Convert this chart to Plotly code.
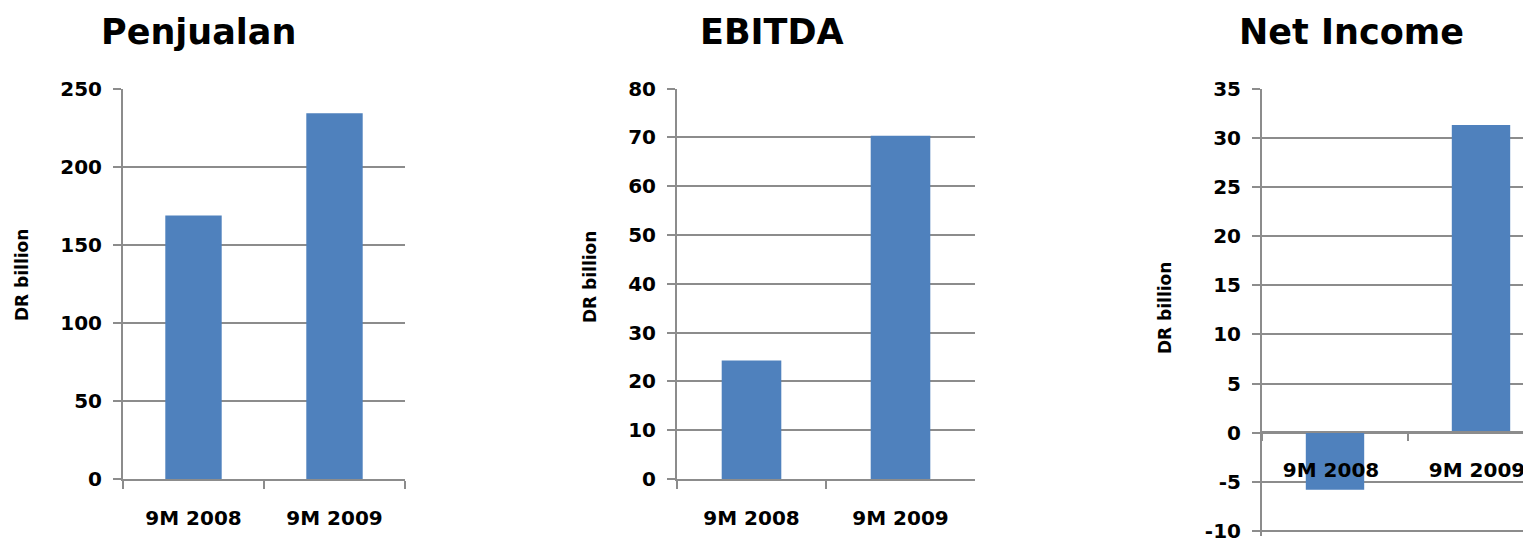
import plotly.graph_objects as go

categories = ["9M 2008", "9M 2009"]
penjualan = [168.7, 234.1]
ebitda = [24.3, 70.3]
net_income = [-5.8, 31.3]
titles = ["Penjualan", "EBITDA", "Net Income"]
axis_title = "DR billion"
ni_ticks = [-10, -5, 0, 5, 10, 15, 20, 25, 30, 35]
ni_tick_labels = ["-10", "-5", "0", "5", "10", "15", "20", "25", "30", "35"]

# page body has an 8px margin: the figure fills the rest of the 1531x540 window
OFF = 8
W, H = 1531 - OFF, 540 - OFF
BAR = "#4F81BD"
GRID = "#8C8C8C"
FONT = "DejaVu Sans"

def fx(px):
    return (px - OFF) / W

def fy(py):
    return 1 - (py - OFF) / H

fig = go.Figure()
fig.add_trace(go.Bar(x=categories, y=penjualan, marker=dict(color=BAR, line=dict(width=0)),
                     width=0.4, xaxis="x", yaxis="y", showlegend=False))
fig.add_trace(go.Bar(x=categories, y=ebitda, marker=dict(color=BAR, line=dict(width=0)),
                     width=0.4, xaxis="x2", yaxis="y2", showlegend=False))
fig.add_trace(go.Bar(x=categories, y=net_income, marker=dict(color=BAR, line=dict(width=0)),
                     width=0.4, xaxis="x3", yaxis="y3", showlegend=False))

tickfont = dict(family=FONT, size=20, color="black", weight="bold")

def xaxis(domain, anchor, rng, position=None, shift=0):
    d = dict(domain=domain, type="category", range=rng, showline=True, linecolor=GRID,
             linewidth=2, ticks="outside", tickson="boundaries", ticklen=8, tickwidth=2,
             tickcolor=GRID, tickfont=tickfont, showgrid=False, zeroline=False,
             ticklabelstandoff=20, ticklabelshift=shift, fixedrange=True, automargin=False,
             ticklabeloverflow="allow")
    if position is None:
        d["anchor"] = anchor
    else:
        d["anchor"] = "free"
        d["position"] = position
    return d

def yaxis(domain, anchor, rng, dtick, tickvals=None, ticktext=None):
    d = dict(domain=domain, anchor=anchor, range=rng, dtick=dtick, tick0=0,
             showline=True, linecolor=GRID, linewidth=2, ticks="outside", ticklen=8,
             tickwidth=2, tickcolor=GRID, showgrid=True, gridcolor=GRID, gridwidth=2,
             zeroline=False, tickfont=tickfont, ticklabelstandoff=7, fixedrange=True,
             automargin=False, ticklabeloverflow="allow")
    if tickvals is not None:
        d["tickmode"] = "array"
        d["tickvals"] = tickvals
        d["ticktext"] = ticktext
    return d

ydom12 = [fy(479), fy(88.5)]
# extension below -10 so the bottom gridline is drawn inside the plot area
ydom3 = [fy(536), fy(88.5)]

fig.update_layout(
    width=W, height=H,
    margin=dict(l=0, r=0, t=0, b=0, pad=0, autoexpand=False),
    paper_bgcolor="white", plot_bgcolor="white",
    xaxis=xaxis([fx(123), fx(405)], "y", [-0.5, 1.5]),
    yaxis=yaxis(ydom12, "x", [0, 250], 50),
    xaxis2=xaxis([fx(677), fx(975)], "y2", [-0.5, 1.5]),
    yaxis2=yaxis(ydom12, "x2", [0, 80], 10),
    xaxis3=xaxis([fx(1262), 1.0], "y3", [-0.5, -0.5 + (1531 - 1262) / 146.0],
                 position=fy(432), shift=-4),
    yaxis3=yaxis(ydom3, "x3", [-10.5, 35], 5, ni_ticks, ni_tick_labels),
)

annotations = []
for title, cx in zip(titles, [198, 772, 1351]):
    annotations.append(dict(text=title, x=fx(cx), y=fy(32), xref="paper", yref="paper",
                            xanchor="center", yanchor="middle", showarrow=False,
                            font=dict(family=FONT, size=35, color="black", weight="bold")))
for ax_x, ax_y in [(22, 275), (590, 277), (1165, 308)]:
    annotations.append(dict(text=axis_title, x=fx(ax_x), y=fy(ax_y), xref="paper", yref="paper",
                            xanchor="center", yanchor="middle", showarrow=False, textangle=-90,
                            font=dict(family=FONT, size=17, color="black", weight="bold")))
fig.update_layout(annotations=annotations)

fig.write_html("out.html")
